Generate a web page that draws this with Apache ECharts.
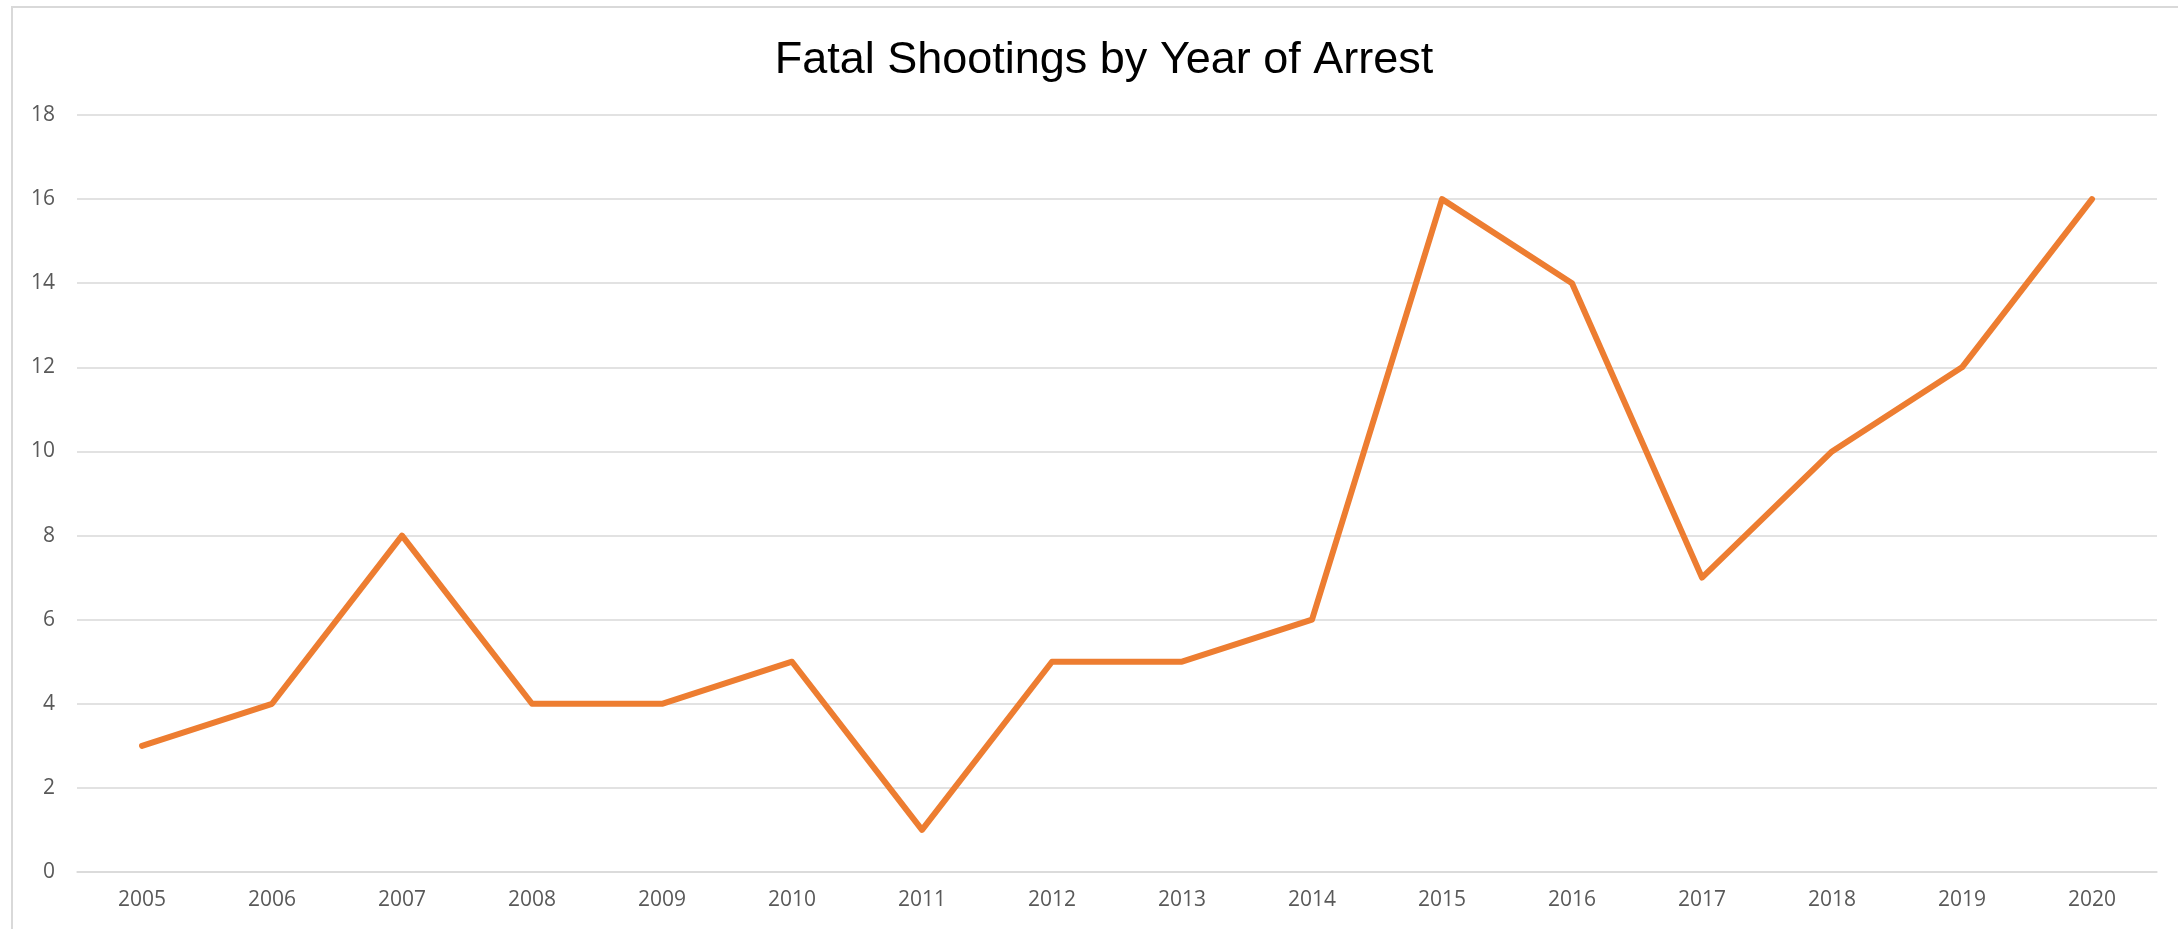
<!DOCTYPE html>
<html><head><meta charset="utf-8">
<script src="https://cdn.jsdelivr.net/npm/echarts@6/dist/echarts.min.js"></script>
<style>html,body{margin:0;padding:0;background:#fff}#c{width:2178px;height:929px}</style>
</head><body><div id="c"></div>
<script>
const years = ['2005','2006','2007','2008','2009','2010','2011','2012','2013','2014','2015','2016','2017','2018','2019','2020'];
const shootings = [3,4,8,4,4,5,1,5,5,6,16,14,7,10,12,16];
const yTicks = {min:0, max:18, interval:2};
const titleText = 'Fatal Shootings by Year of Arrest';

const chart = echarts.init(document.getElementById('c'));
chart.setOption({
  animation:false,
  backgroundColor:'#fff',
  graphic:[{type:'rect', shape:{x:12,y:7,width:2300,height:1000}, style:{fill:'none', stroke:'#d9d9d9', lineWidth:2}}],
  title:{text:titleText, left:1099, top:33, textAlign:'center',
    textStyle:{fontFamily:'Liberation Sans, Arial, sans-serif', fontSize:45, fontWeight:'normal', color:'#000'}},
  grid:{left:77, right:21, top:115, bottom:57, containLabel:false},
  xAxis:{type:'category', data:years, boundaryGap:true,
    axisLine:{show:true, lineStyle:{color:'#d9d9d9', width:1.5}}, axisTick:{show:false},
    axisLabel:{color:'#595959', fontSize:21, fontFamily:'Open Sans, Calibri, sans-serif', margin:18}},
  yAxis:{type:'value', min:yTicks.min, max:yTicks.max, interval:yTicks.interval,
    axisLine:{show:false}, axisTick:{show:false},
    splitLine:{lineStyle:{color:'#d9d9d9', width:1.5}},
    axisLabel:{color:'#595959', fontSize:21, fontFamily:'Open Sans, Calibri, sans-serif', margin:22}},
  series:[{type:'line', data:shootings, symbol:'none',
    lineStyle:{color:'#ED7D31', width:6, cap:'round', join:'round'}}]
});
</script></body></html>
